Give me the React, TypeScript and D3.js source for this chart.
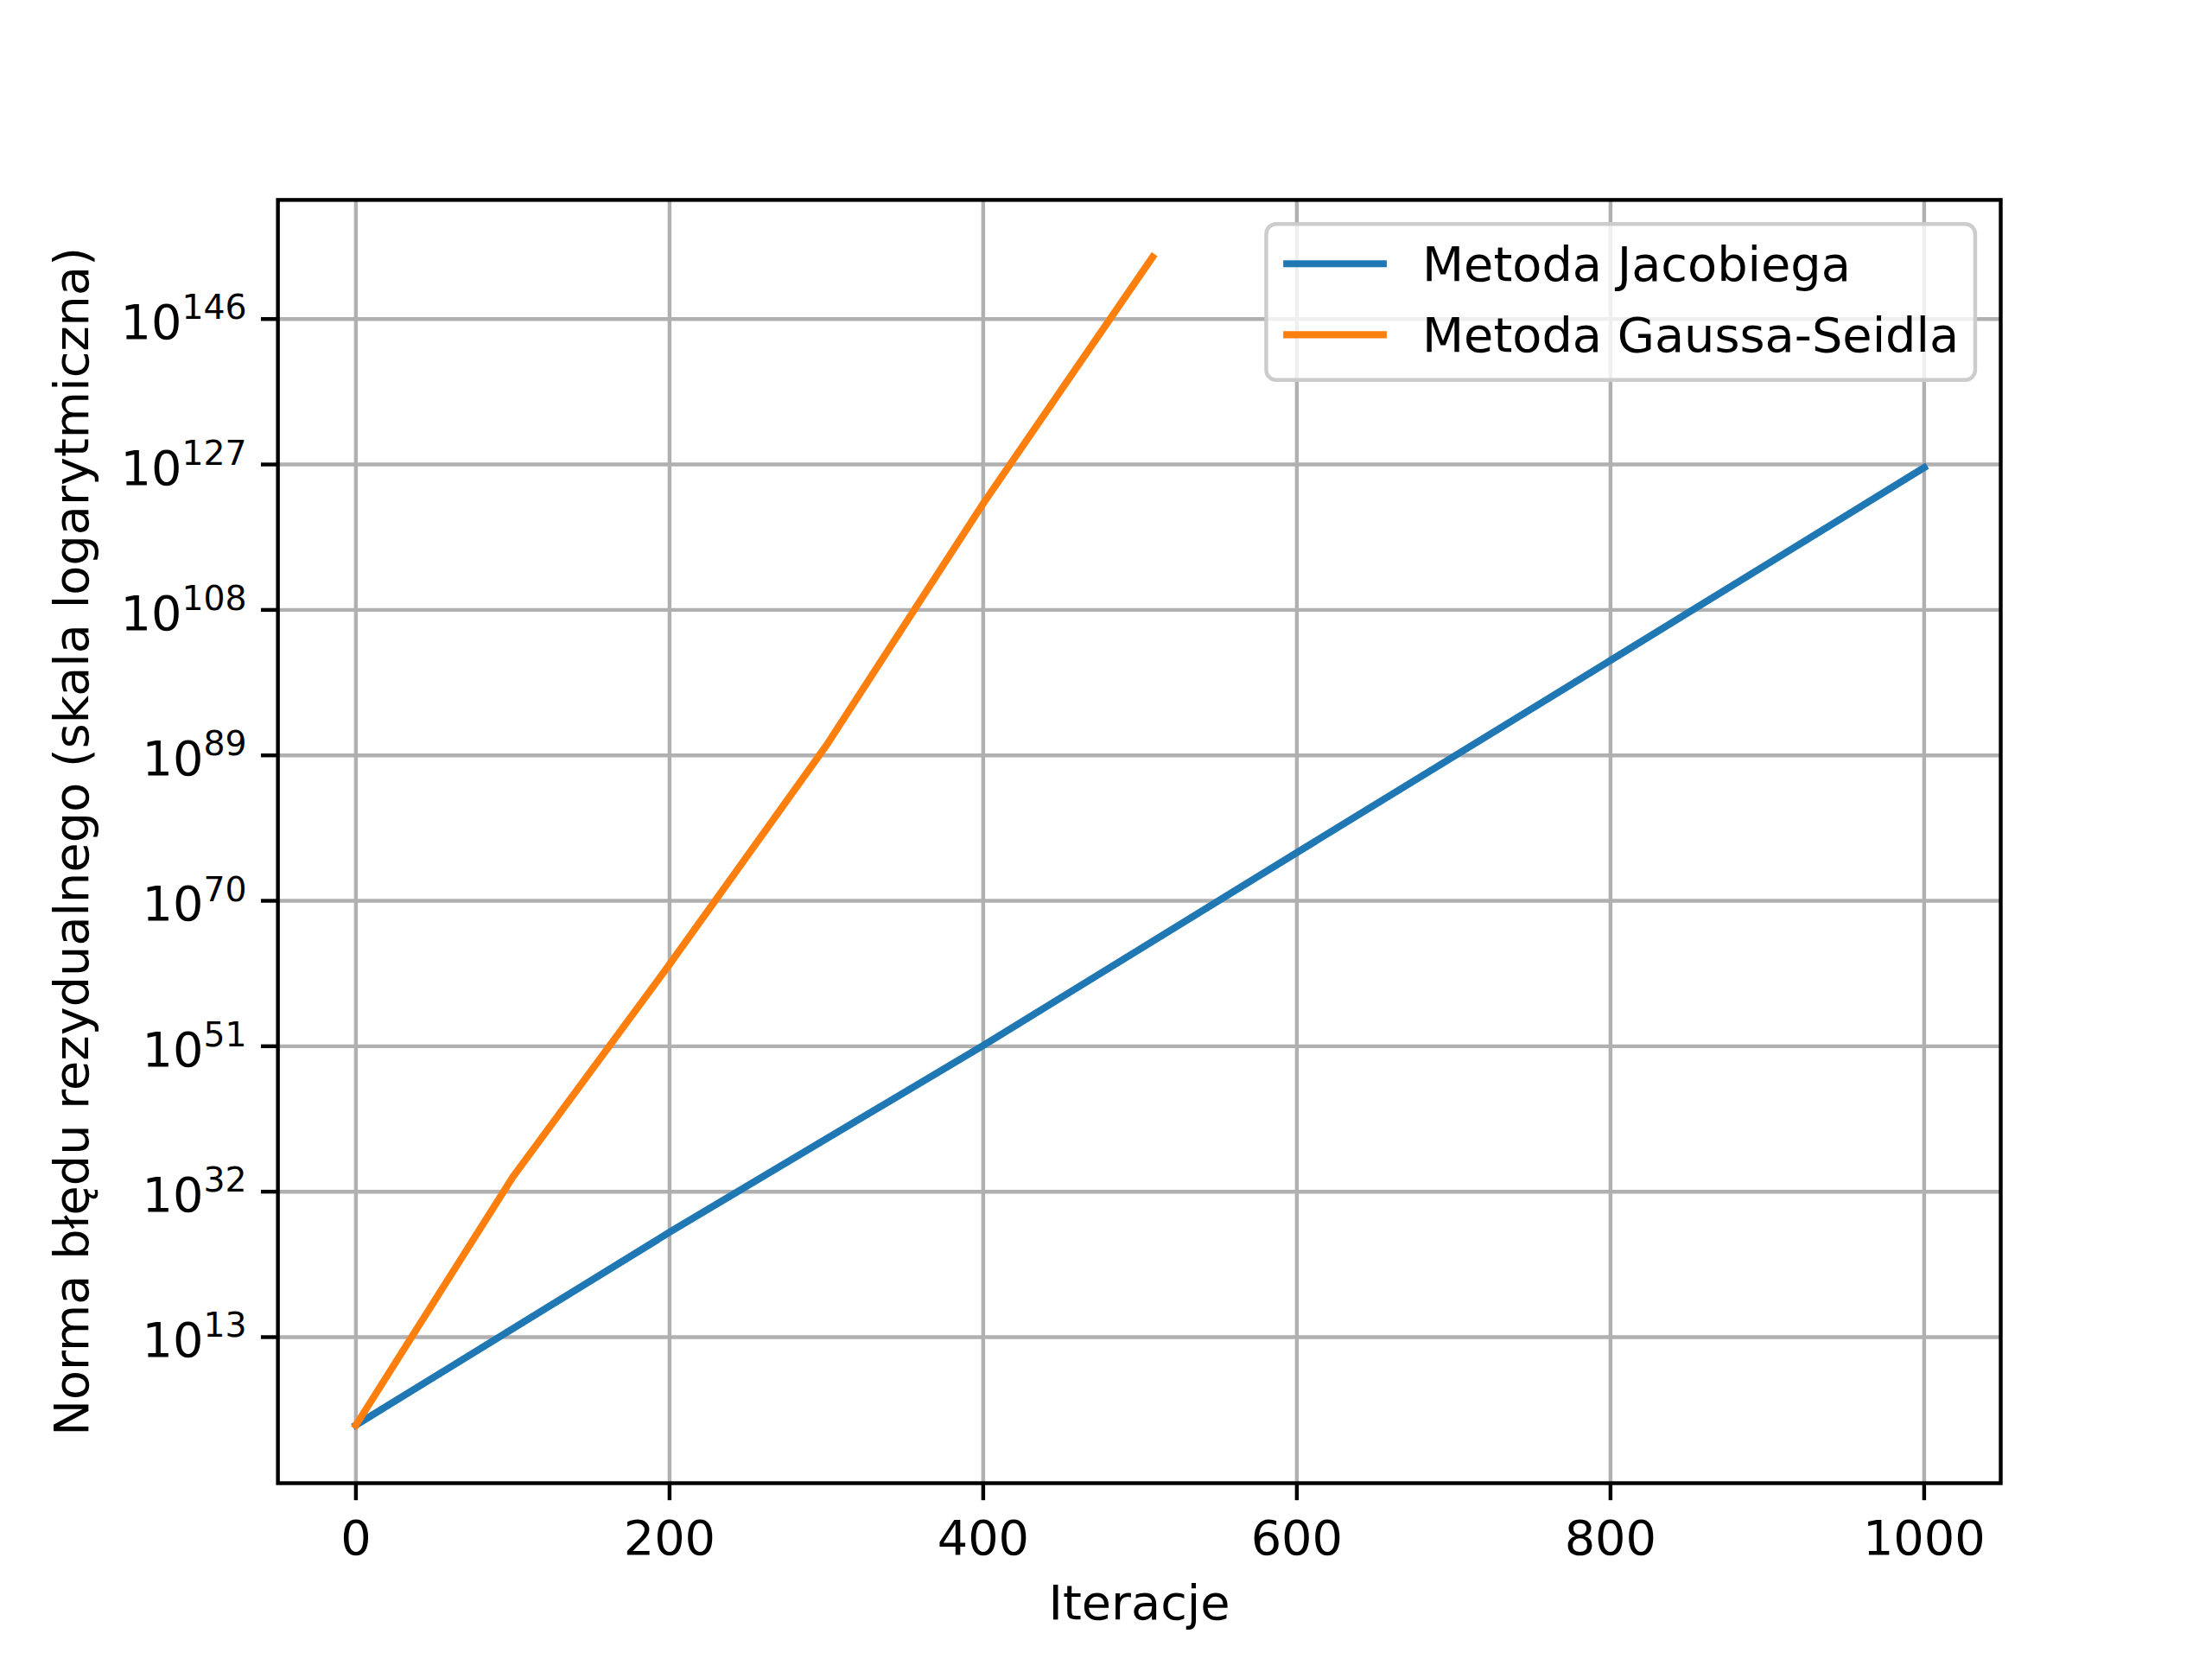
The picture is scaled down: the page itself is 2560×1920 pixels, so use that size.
import React from "react";
import * as d3 from "d3";

// iteration -> log10(residual norm)
const jacobiX = [0, 200, 400, 600, 800, 1000];
const jacobiY = [1.5, 26.7, 51.1, 76.3, 101.4, 126.6];
const gsX = [0, 100, 200, 300, 400, 508];
const gsY = [1.5, 33.9, 61.7, 90.3, 121.9, 154.1];
const xTicks = [0, 200, 400, 600, 800, 1000];
const yTicks = [13, 32, 51, 70, 89, 108, 127, 146];
const seriesNames = ["Metoda Jacobiega", "Metoda Gaussa-Seidla"];
const colors = ["#1f77b4", "#ff7f0e"];

const W = 1560;
const H = 1170;
const m = { left: 196, right: 1411, top: 141, bottom: 1046 };
const FS = 34;

export default function App() {
  const x = d3.scaleLinear().domain([0, 1000]).range([251, 1357]);
  const y = d3.scaleLinear().domain([13, 146]).range([943, 225]);
  const line = d3
    .line<[number, number]>()
    .x((d) => x(d[0]))
    .y((d) => y(d[1]));
  const series = [
    jacobiX.map((v, i) => [v, jacobiY[i]] as [number, number]),
    gsX.map((v, i) => [v, gsY[i]] as [number, number]),
  ];

  return (
    <svg
      width={2560}
      height={1920}
      viewBox={`0 0 ${W} ${H}`}
      style={{ position: "absolute", left: 0, top: 0, background: "#fff" }}
      fontFamily="DejaVu Sans"
    >
      <defs>
        <clipPath id="plot">
          <rect x={m.left} y={m.top} width={m.right - m.left} height={m.bottom - m.top} />
        </clipPath>
      </defs>
      {xTicks.map((t) => (
        <g key={`x${t}`}>
          <line x1={x(t)} x2={x(t)} y1={m.top} y2={m.bottom} stroke="#b0b0b0" strokeWidth={2.7} />
          <line x1={x(t)} x2={x(t)} y1={m.bottom} y2={m.bottom + 12} stroke="#000" strokeWidth={2.7} />
          <text x={x(t)} y={m.bottom + 50} textAnchor="middle" fontSize={FS}>
            {t}
          </text>
        </g>
      ))}
      {yTicks.map((t) => (
        <g key={`y${t}`}>
          <line x1={m.left} x2={m.right} y1={y(t)} y2={y(t)} stroke="#b0b0b0" strokeWidth={2.7} />
          <line x1={m.left - 12} x2={m.left} y1={y(t)} y2={y(t)} stroke="#000" strokeWidth={2.7} />
          <text x={m.left - 22} y={y(t) + 14} textAnchor="end" fontSize={FS}>
            10
            <tspan dy={-14} fontSize={24}>
              {t}
            </tspan>
          </text>
        </g>
      ))}
      <g clipPath="url(#plot)">
        {series.map((s, i) => (
          <path key={i} d={line(s) ?? ""} fill="none" stroke={colors[i]} strokeWidth={5} strokeLinecap="square" />
        ))}
      </g>
      <rect x={m.left} y={m.top} width={m.right - m.left} height={m.bottom - m.top} fill="none" stroke="#000" strokeWidth={2.7} />
      <text x={(m.left + m.right) / 2} y={1142} textAnchor="middle" fontSize={FS}>
        Iteracje
      </text>
      <text
        transform={`translate(62, ${(m.top + m.bottom) / 2}) rotate(-90)`}
        textAnchor="middle"
        fontSize={FS}
      >
        Norma błędu rezydualnego (skala logarytmiczna)
      </text>
      <g>
        <rect x={893} y={158} width={500} height={110} rx={7} fill="#fff" fillOpacity={0.8} stroke="#ccc" strokeWidth={2.7} />
        {seriesNames.map((n, i) => (
          <g key={n} transform={`translate(0, ${186 + i * 50})`}>
            <line x1={905} x2={978} y1={0} y2={0} stroke={colors[i]} strokeWidth={5} />
            <text x={1003} y={12} fontSize={FS}>
              {n}
            </text>
          </g>
        ))}
      </g>
    </svg>
  );
}
